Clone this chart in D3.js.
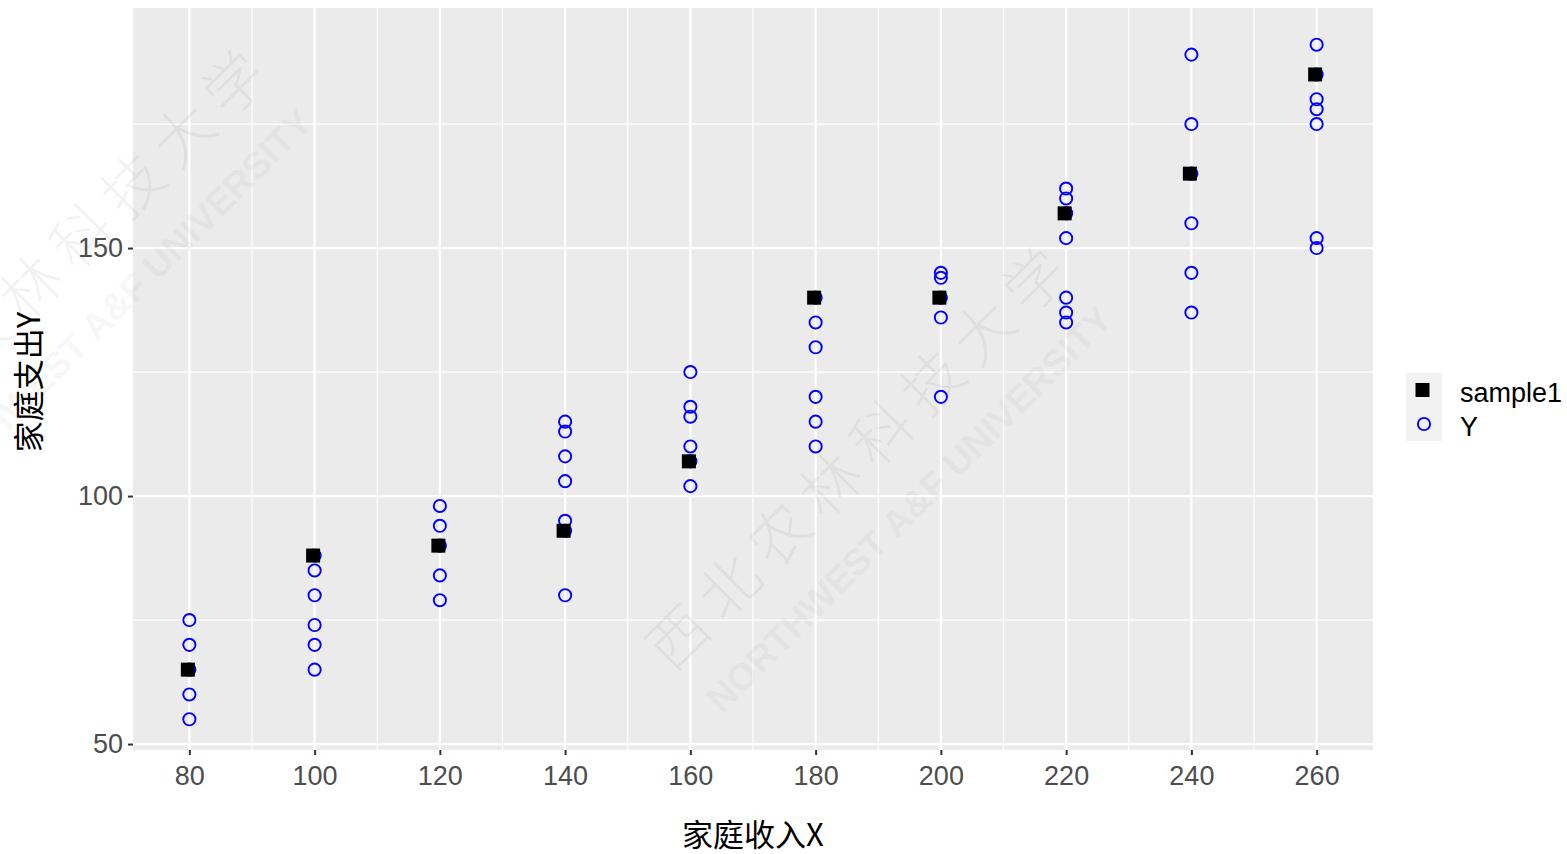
<!DOCTYPE html>
<html>
<head>
<meta charset="utf-8">
<script src="https://cdn.jsdelivr.net/npm/d3@7"></script>
<style>
  html, body { margin: 0; padding: 0; background: #ffffff; }
  svg { display: block; }
</style>
</head>
<body>
<svg id="chart" width="1567" height="854"></svg>
<script>
// Family income (X) and household expenditure (Y)
const incomeLevels = [80, 100, 120, 140, 160, 180, 200, 220, 240, 260];
const expenditureY = [
  [55, 60, 65, 70, 75],
  [65, 70, 74, 80, 85, 88],
  [79, 84, 90, 94, 98],
  [80, 93, 95, 103, 108, 113, 115],
  [102, 107, 110, 116, 118, 125],
  [110, 115, 120, 130, 135, 140],
  [120, 136, 140, 144, 145],
  [135, 137, 140, 152, 157, 160, 162],
  [137, 145, 155, 165, 175, 189],
  [150, 152, 175, 178, 180, 185, 191]
];
// one sampled expenditure per income level
const sample1 = [65, 88, 90, 93, 107, 140, 140, 157, 165, 185];

const xTicks = [80, 100, 120, 140, 160, 180, 200, 220, 240, 260];
const xMinor = [70, 90, 110, 130, 150, 170, 190, 210, 230, 250, 270];
const yTicks = [50, 100, 150];
const yMinor = [75, 125, 175];
const xLimits = [71, 269];
const yLimits = [48.8, 198.4];

const xTitle = "家庭收入X";
const yTitle = "家庭支出Y";
const legendLabels = ["sample1", "Y"];

const svg = d3.select("#chart");
const panel = { left: 133, right: 1373, top: 8, bottom: 750 };

const x = d3.scaleLinear().domain(xLimits).range([panel.left, panel.right]);
const y = d3.scaleLinear().domain(yLimits).range([panel.bottom, panel.top]);

// panel background
svg.append("rect")
  .attr("x", panel.left).attr("y", panel.top)
  .attr("width", panel.right - panel.left)
  .attr("height", panel.bottom - panel.top)
  .attr("fill", "#ebebeb");

const grid = svg.append("g");
grid.selectAll(".xminor").data(xMinor.filter(v => v > xLimits[0] && v < xLimits[1])).join("line")
  .attr("x1", d => x(d)).attr("x2", d => x(d))
  .attr("y1", panel.top).attr("y2", panel.bottom)
  .attr("stroke", "#ffffff").attr("stroke-width", 1.2);
grid.selectAll(".yminor").data(yMinor).join("line")
  .attr("y1", d => y(d)).attr("y2", d => y(d))
  .attr("x1", panel.left).attr("x2", panel.right)
  .attr("stroke", "#ffffff").attr("stroke-width", 1.2);
grid.selectAll(".xmajor").data(xTicks).join("line")
  .attr("x1", d => x(d)).attr("x2", d => x(d))
  .attr("y1", panel.top).attr("y2", panel.bottom)
  .attr("stroke", "#ffffff").attr("stroke-width", 2.2);
grid.selectAll(".ymajor").data(yTicks).join("line")
  .attr("y1", d => y(d)).attr("y2", d => y(d))
  .attr("x1", panel.left).attr("x2", panel.right)
  .attr("stroke", "#ffffff").attr("stroke-width", 2.2);

// axes
const fontLatin = "Liberation Sans, Arial, sans-serif";
const fontCJK = "'Noto Sans CJK SC', 'Liberation Sans', sans-serif";

const xAxis = svg.append("g")
  .attr("transform", `translate(0,${panel.bottom})`)
  .call(d3.axisBottom(x).tickValues(xTicks).tickSize(5).tickPadding(11));
const yAxis = svg.append("g")
  .attr("transform", `translate(${panel.left},0)`)
  .call(d3.axisLeft(y).tickValues(yTicks).tickSize(5).tickPadding(5));
[xAxis, yAxis].forEach(ax => {
  ax.select(".domain").remove();
  ax.selectAll(".tick line").attr("stroke", "#333333").attr("stroke-width", 2);
  ax.selectAll(".tick text")
    .attr("fill", "#4d4d4d")
    .style("font-family", fontLatin)
    .style("font-size", "27px");
});

// faint diagonal university watermark
function watermark(cx, cy) {
  const g = svg.append("g")
    .attr("transform", `translate(${cx},${cy}) rotate(-45)`)
    .attr("fill", "#000000").attr("fill-opacity", 0.05)
    .style("pointer-events", "none");
  g.append("text")
    .attr("x", 0).attr("y", 0)
    .attr("text-anchor", "middle")
    .style("font-family", fontCJK)
    .style("font-size", "60px")
    .style("font-weight", 300)
    .style("letter-spacing", "12px")
    .text("西北农林科技大学");
  g.append("text")
    .attr("x", -4).attr("y", 64)
    .attr("text-anchor", "middle")
    .style("font-family", fontLatin)
    .style("font-size", "37px")
    .style("font-weight", "bold")
    .text("NORTHWEST A&F UNIVERSITY");
}
watermark(876, 470);
watermark(76, 273);

// points
const yPoints = incomeLevels.flatMap((xv, i) => expenditureY[i].map(v => ({ x: xv, y: v })));
const samplePoints = incomeLevels.map((xv, i) => ({ x: xv, y: sample1[i] }));

const circleR = 6.1;
const circleW = 1.9;
svg.append("g").selectAll("circle").data(yPoints).join("circle")
  .attr("cx", d => x(d.x)).attr("cy", d => y(d.y))
  .attr("r", circleR)
  .attr("fill", "none")
  .attr("stroke", "#0000ff")
  .attr("stroke-width", circleW);

const sq = 14;
svg.append("g").selectAll("rect").data(samplePoints).join("rect")
  .attr("x", d => x(d.x) - sq / 2 - 1.5)
  .attr("y", d => y(d.y) - sq / 2)
  .attr("width", sq).attr("height", sq)
  .attr("fill", "#000000");

// axis titles
svg.append("text")
  .attr("x", (panel.left + panel.right) / 2)
  .attr("y", 846)
  .attr("text-anchor", "middle")
  .attr("fill", "#000000")
  .style("font-family", fontCJK)
  .style("font-size", "31px")
  .text(xTitle);
svg.append("text")
  .attr("transform", `translate(40,${(panel.top + panel.bottom) / 2 + 3}) rotate(-90)`)
  .attr("text-anchor", "middle")
  .attr("fill", "#000000")
  .style("font-family", fontCJK)
  .style("font-size", "31px")
  .text(yTitle);

// legend
const legend = svg.append("g").attr("transform", "translate(1406,373)");
const keySize = 34;
legendLabels.forEach((label, i) => {
  const ky = i * keySize;
  legend.append("rect")
    .attr("x", 0).attr("y", ky)
    .attr("width", 36).attr("height", keySize)
    .attr("fill", "#f2f2f2");
  legend.append("text")
    .attr("x", 54).attr("y", ky + keySize / 2 + 12)
    .attr("fill", "#000000")
    .style("font-family", fontLatin)
    .style("font-size", "27px")
    .text(label);
});
legend.append("rect")
  .attr("x", 18 - sq / 2 - 1.5).attr("y", keySize / 2 - sq / 2)
  .attr("width", sq).attr("height", sq)
  .attr("fill", "#000000");
legend.append("circle")
  .attr("cx", 18).attr("cy", keySize + keySize / 2)
  .attr("r", circleR)
  .attr("fill", "none")
  .attr("stroke", "#0000ff")
  .attr("stroke-width", circleW);
</script>
</body>
</html>
